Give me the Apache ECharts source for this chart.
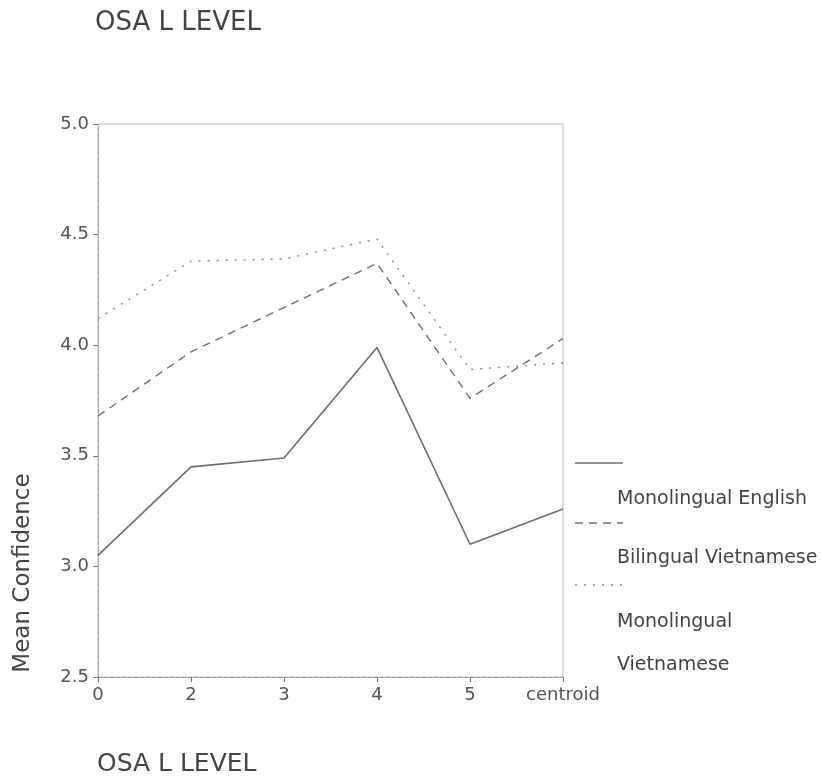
<!DOCTYPE html>
<html>
<head>
<meta charset="utf-8">
<script src="https://cdn.jsdelivr.net/npm/echarts@6/dist/echarts.min.js"></script>
<style>html,body{margin:0;padding:0;background:#fff;}#c{width:822px;height:780px;}</style>
</head>
<body>
<div id="c"></div>
<script>
const categories = ['0', '2', '3', '4', '5', 'centroid'];
const monolingualEnglish = [3.05, 3.45, 3.49, 3.99, 3.10, 3.26];
const bilingualVietnamese = [3.68, 3.97, 4.17, 4.37, 3.76, 4.03];
const monolingualVietnamese = [4.12, 4.38, 4.39, 4.48, 3.89, 3.92];
const seriesNames = ['Monolingual English', 'Bilingual Vietnamese', 'Monolingual Vietnamese'];
const yTicks = [2.5, 3.0, 3.5, 4.0, 4.5, 5.0];

const chart = echarts.init(document.getElementById('c'));
const font = '"DejaVu Sans", Arial, sans-serif';
const lineStyles = [
  { color: '#6e6e6e', width: 1.6, type: 'solid' },
  { color: '#707070', width: 1.4, type: [8, 6] },
  { color: '#8a8a8a', width: 1.4, type: [2, 7] }
];
const seriesData = [monolingualEnglish, bilingualVietnamese, monolingualVietnamese];

const legendY = [463, 523, 585];
const legendTextY = [[499], [558], [622, 665]];
const legendLabels = [['Monolingual English'], ['Bilingual Vietnamese'], ['Monolingual', 'Vietnamese']];
const graphics = [];
for (let i = 0; i < 3; i++) {
  graphics.push({
    type: 'line', x: 575, y: legendY[i],
    shape: { x1: 0, y1: 0, x2: 48, y2: 0 },
    style: { stroke: lineStyles[i].color, lineWidth: lineStyles[i].width, lineDash: lineStyles[i].type === 'solid' ? null : lineStyles[i].type }
  });
  legendLabels[i].forEach((t, j) => {
    graphics.push({
      type: 'text', x: 617, y: legendTextY[i][j],
      style: { text: t, fill: '#444', font: '19px ' + font, verticalAlign: 'middle' }
    });
  });
}
graphics.push({
  type: 'text', x: 95, y: 23,
  style: { text: 'OSA L LEVEL', fill: '#444', font: '26px ' + font, verticalAlign: 'middle' }
});
graphics.push({
  type: 'text', x: 97, y: 764,
  style: { text: 'OSA L LEVEL', fill: '#444', font: '25px ' + font, verticalAlign: 'middle' }
});
graphics.push({
  type: 'text', x: 23, y: 573, rotation: Math.PI / 2,
  style: { text: 'Mean Confidence', fill: '#444', font: '23px ' + font, align: 'center', verticalAlign: 'middle' }
});

chart.setOption({
  animation: false,
  backgroundColor: '#fff',
  grid: { left: 98, top: 124, right: 259, bottom: 103, show: true, borderColor: '#bbb', borderWidth: 1 },
  xAxis: {
    type: 'category', data: categories, boundaryGap: false,
    axisLine: { lineStyle: { color: '#999', type: 'dashed' } },
    axisTick: { show: true, interval: 0, alignWithLabel: true, length: 5, lineStyle: { color: '#777' } },
    axisLabel: { interval: 0, hideOverlap: false, color: '#555', fontSize: 18, fontFamily: font, margin: 9 },
    splitLine: { show: false }
  },
  yAxis: {
    type: 'value', min: 2.5, max: 5.0, interval: 0.5,
    axisLine: { show: true, lineStyle: { color: '#aaa', type: 'dashed' } },
    axisTick: { show: true, length: 5, lineStyle: { color: '#777' } },
    axisLabel: { color: '#555', fontSize: 18, fontFamily: font, margin: 9,
      formatter: v => yTicks.includes(+v.toFixed(1)) ? v.toFixed(1) : '' },
    splitLine: { show: false }
  },
  graphic: graphics,
  series: seriesData.map((d, i) => ({
    name: seriesNames[i], type: 'line', data: d, symbol: 'none',
    lineStyle: lineStyles[i]
  }))
});
</script>
</body>
</html>
